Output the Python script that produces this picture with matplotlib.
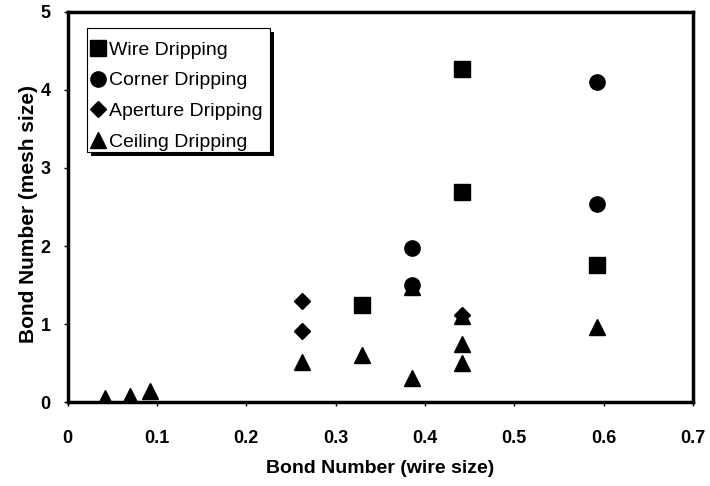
import matplotlib
matplotlib.use("Agg")
import matplotlib.pyplot as plt
from matplotlib.patches import Rectangle

plt.rcParams['font.family'] = ['Liberation Sans', 'DejaVu Sans']

# Bond numbers
wire_x = [0.329, 0.441, 0.441, 0.593]
wire_y = [1.25, 4.26, 2.69, 1.76]

corner_x = [0.385, 0.385, 0.593, 0.593]
corner_y = [1.97, 1.50, 4.10, 2.54]

aperture_x = [0.262, 0.262, 0.441]
aperture_y = [1.30, 0.91, 1.12]

ceiling_x = [0.042, 0.070, 0.092, 0.262, 0.329, 0.385, 0.385, 0.441, 0.441, 0.441, 0.593]
ceiling_y = [0.05, 0.08, 0.14, 0.51, 0.61, 0.31, 1.47, 0.50, 0.74, 1.10, 0.97]

fig = plt.figure(figsize=(7.1, 4.86), dpi=100)
ax = fig.add_axes([0.0951, 0.1722, 0.881, 0.804])

ax.plot(wire_x, wire_y, 's', color='black', ms=11.5, ls='none', label='Wire Dripping')
ax.plot(corner_x, corner_y, 'o', color='black', ms=11, ls='none', label='Corner Dripping')
ax.plot(aperture_x, aperture_y, 'D', color='black', ms=8.5, ls='none', label='Aperture Dripping')
ax.plot(ceiling_x, ceiling_y, '^', color='black', ms=12, ls='none', label='Ceiling Dripping')

ax.set_xlim(0, 0.7)
ax.set_ylim(0, 5)
ax.set_xticks([0, 0.1, 0.2, 0.3, 0.4, 0.5, 0.6, 0.7])
ax.set_xticklabels(['0', '0.1', '0.2', '0.3', '0.4', '0.5', '0.6', '0.7'])
ax.set_yticks([0, 1, 2, 3, 4, 5])

for s in ax.spines.values():
    s.set_linewidth(2.5)
    s.set_color('black')

ax.tick_params(direction='out', length=3, width=1, labelsize=13)
ax.tick_params(axis='x', pad=17)
ax.tick_params(axis='y', pad=9)
for lab in ax.get_xticklabels() + ax.get_yticklabels():
    lab.set_fontweight('bold')

ax.set_xlabel('Bond Number (wire size)', fontsize=14, fontweight='bold', labelpad=9)
ax.set_ylabel('Bond Number (mesh size)', fontsize=15, fontweight='bold')
ax.yaxis.set_label_coords(-0.047, 0.483)

# legend box with a solid black drop shadow
bx, by, bw, bh = 0.0312, 0.6416, 0.2925, 0.3159
ax.add_patch(Rectangle((bx + 0.0064, by - 0.0102), bw, bh, transform=ax.transAxes,
                       facecolor='black', edgecolor='none', zorder=4))
ax.add_patch(Rectangle((bx, by), bw, bh, transform=ax.transAxes,
                       facecolor='white', edgecolor='black', linewidth=0.8, zorder=4))

leg = ax.legend(loc='upper left', bbox_to_anchor=(0.031, 0.9396), frameon=False,
                fontsize=14, handlelength=0.54, handletextpad=0.3,
                borderpad=0.3, labelspacing=0.68, borderaxespad=0)
leg.set_zorder(5)

fig.savefig('out.png', dpi=100)
